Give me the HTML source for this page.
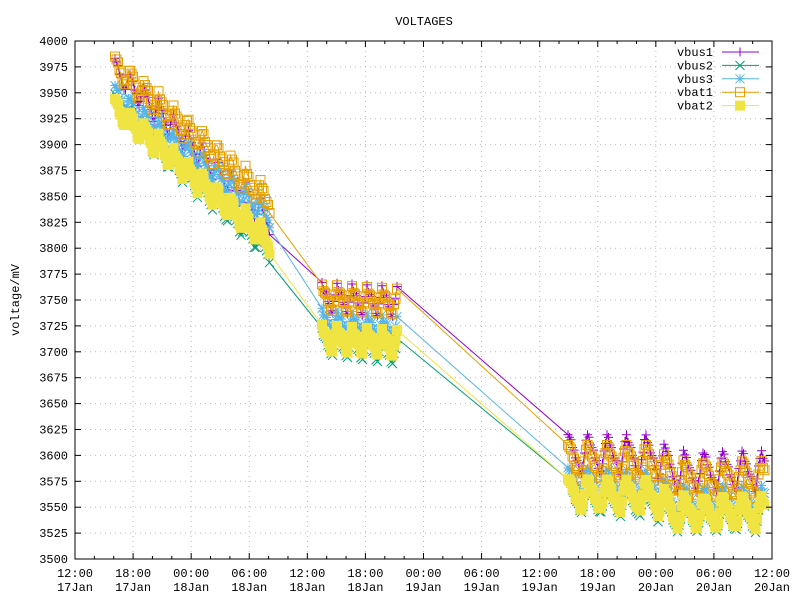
<!DOCTYPE html>
<html><head><meta charset="utf-8"><style>
body{margin:0;background:#fff;width:800px;height:600px;overflow:hidden}
svg text{font-family:"Liberation Mono",monospace;font-size:12px;fill:#000}
</style></head><body>
<svg id="s" width="800" height="600" xmlns="http://www.w3.org/2000/svg">
<rect width="800" height="600" fill="#fff"/>
<g id="grid"></g>
<g id="data"></g>
<g id="axes"></g>
</svg>
<script>
const NS="http://www.w3.org/2000/svg";
const L=75,R=772,T=41,B=559;
const Y=v=>T+(4000-v)*(B-T)/500;
function el(p,tag,a,txt){const e=document.createElementNS(NS,tag);for(const k in a)e.setAttribute(k,a[k]);if(txt!=null)e.textContent=txt;p.appendChild(e);return e;}
const g=document.getElementById('grid'),ax=document.getElementById('axes'),dg=document.getElementById('data');
for(let i=0;i<=20;i++){const v=3500+25*i,y=Y(v);
 if(i>0&&i<20)el(g,'line',{x1:L,x2:R,y1:y,y2:y,stroke:'#bbb','stroke-dasharray':'1,4'});
 el(ax,'line',{x1:L,x2:L+6,y1:y,y2:y,stroke:'#000'});el(ax,'line',{x1:R,x2:R-6,y1:y,y2:y,stroke:'#000'});
 el(ax,'text',{x:68,y:y+4,'text-anchor':'end'},String(v));}
const xs=(R-L)/12;
const lab=[["12:00","17Jan"],["18:00","17Jan"],["00:00","18Jan"],["06:00","18Jan"],["12:00","18Jan"],["18:00","18Jan"],["00:00","19Jan"],["06:00","19Jan"],["12:00","19Jan"],["18:00","19Jan"],["00:00","20Jan"],["06:00","20Jan"],["12:00","20Jan"]];
for(let i=0;i<=12;i++){const x=L+i*xs;
 if(i>0&&i<12)el(g,'line',{x1:x,x2:x,y1:T,y2:B,stroke:'#bbb','stroke-dasharray':'1,4'});
 el(ax,'line',{x1:x,x2:x,y1:B,y2:B-6,stroke:'#000'});el(ax,'line',{x1:x,x2:x,y1:T,y2:T+6,stroke:'#000'});
 if(i<12)for(let j=1;j<3;j++){const xm=x+j*xs/3;el(ax,'line',{x1:xm,x2:xm,y1:B,y2:B-3,stroke:'#000'});el(ax,'line',{x1:xm,x2:xm,y1:T,y2:T+3,stroke:'#000'});}
 el(ax,'text',{x:x,y:577,'text-anchor':'middle'},lab[i][0]);el(ax,'text',{x:x,y:591,'text-anchor':'middle'},lab[i][1]);}
el(ax,'rect',{x:L,y:T,width:R-L,height:B-T,fill:'none',stroke:'#000'});
el(ax,'text',{x:424,y:25,'text-anchor':'middle'},'VOLTAGES');
el(ax,'text',{x:0,y:0,'text-anchor':'middle',transform:'translate(19,300) rotate(-90)'},'voltage/mV');
const S=[
 {n:'vbus1',c:'#9400d3',m:'+',A:[3972,3825,26],B:[3752,3748,28],C:[3602,3600,3585,40]},
 {n:'vbus2',c:'#009e73',m:'x',A:[3938,3798,26],B:[3710,3700,24],C:[3562,3555,3543,34]},
 {n:'vbus3',c:'#56b4e9',m:'*',A:[3948,3830,22],B:[3730,3722,22],C:[3575,3570,3556,30]},
 {n:'vbat1',c:'#e69f00',m:'s',A:[3975,3845,24],B:[3752,3748,24],C:[3594,3592,3577,36]},
 {n:'vbat2',c:'#f0e442',m:'S',A:[3935,3805,22],B:[3713,3708,24],C:[3563,3560,3545,32]}];
function tri(x,x0,p){let f=((x-x0)/p)%1;return f<0.7?0.5-f/0.7:-0.5+(f-0.7)/0.3;}
function pts(s){const P=[];let k=0;
 for(let x=115;x<=270;x+=1.5){const t=(x-115)/155;P.push([x,s.A[0]+(s.A[1]-s.A[0])*t+s.A[2]*tri(x,115,14.5)+((k++*7)%5-2)]);}
 for(let x=322;x<=397;x+=1.5){const t=(x-322)/75;P.push([x,s.B[0]+(s.B[1]-s.B[0])*t+s.B[2]*tri(x,322,15)+((k++*7)%5-2)]);}
 for(let x=568;x<=765;x+=1.5){let b;if(x<655)b=s.C[0]+(s.C[1]-s.C[0])*(x-568)/87;else if(x<675)b=s.C[1]+(s.C[2]-s.C[1])*(x-655)/20;else b=s.C[2];
  P.push([x,b+s.C[3]*tri(x,568,19.3)+((k++*7)%5-2)]);}
 return P;}
function mark(p,m,x,y,c){const h=4.5;
 if(m=='+'){el(p,'path',{d:`M${x-h} ${y}H${x+h}M${x} ${y-h}V${y+h}`,stroke:c,fill:'none'});}
 else if(m=='x'){el(p,'path',{d:`M${x-h} ${y-h}L${x+h} ${y+h}M${x-h} ${y+h}L${x+h} ${y-h}`,stroke:c,fill:'none'});}
 else if(m=='*'){el(p,'path',{d:`M${x-h} ${y}H${x+h}M${x} ${y-h}V${y+h}M${x-h} ${y-h}L${x+h} ${y+h}M${x-h} ${y+h}L${x+h} ${y-h}`,stroke:c,fill:'none'});}
 else if(m=='s'){el(p,'rect',{x:x-h,y:y-h,width:2*h,height:2*h,stroke:c,fill:'none'});}
 else el(p,'rect',{x:x-h-0.5,y:y-h-0.5,width:2*h+1,height:2*h+1,fill:c});}
S.forEach(s=>{const P=pts(s);const grp=el(dg,'g',{});
 el(grp,'polyline',{points:P.map(p=>p[0]+','+Y(p[1]).toFixed(1)).join(' '),fill:'none',stroke:s.c,'stroke-width':1});
 P.forEach(p=>mark(grp,s.m,p[0],Y(p[1]),s.c));});
S.forEach((s,i)=>{const y=52+13.4*i;
 el(ax,'text',{x:713,y:y+4,'text-anchor':'end'},s.n);
 el(ax,'line',{x1:722,x2:759,y1:y,y2:y,stroke:s.c});mark(ax,s.m,740,y,s.c);});
</script>
</body></html>
